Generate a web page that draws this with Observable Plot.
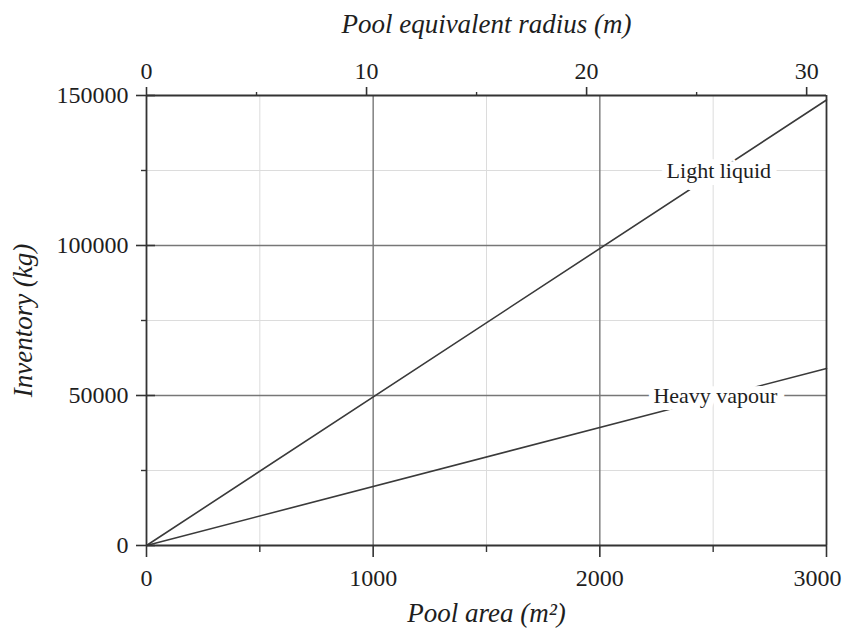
<!DOCTYPE html>
<html>
<head>
<meta charset="utf-8">
<script src="https://cdn.jsdelivr.net/npm/d3@7"></script>
<script src="https://cdn.jsdelivr.net/npm/@observablehq/plot@0.6"></script>
<style>
  html, body { margin: 0; padding: 0; background: #fff; }
</style>
</head>
<body>
<div id="chart"></div>
<script>
// Inventory needed to form a pool of a given area
const poolArea = [0, 3000];
const lightLiquid = [0, 148500];
const heavyVapour = [0, 59000];

// Axis ticks
const areaMajorTicks = [0, 1000, 2000, 3000];
const areaMinorTicks = [500, 1500, 2500];
const inventoryMajorTicks = [0, 50000, 100000, 150000];
const inventoryMinorTicks = [25000, 75000, 125000];
const radiusMajorTicks = [0, 10, 20, 30];
const radiusMinorTicks = [5, 15, 25];

// Series labels, placed on their lines
const labelNames = ["Light liquid", "Heavy vapour"];
const labelArea = [2525, 2510];
const labelInventory = [125000, 50000];

// Top axis: equivalent radius of the largest pool spans the full width
const maxArea = 3000;
const maxRadius = Math.sqrt(maxArea / Math.PI);
const radiusToArea = r => r * maxArea / maxRadius;
const areaToRadius = a => a * maxRadius / maxArea;

const rows = [
  ...poolArea.map((a, i) => ({series: "Light liquid", area: a, inventory: lightLiquid[i]})),
  ...poolArea.map((a, i) => ({series: "Heavy vapour", area: a, inventory: heavyVapour[i]}))
];
const labels = labelNames.map((name, i) => ({name, area: labelArea[i], inventory: labelInventory[i]}));

const axisColor = "#333";
const textColor = "#1e1e1e";
const serif = "'Liberation Serif', 'Times New Roman', serif";
const tickFont = 24;
const titleFont = 27;

const chart = Plot.plot({
  width: 842,
  height: 628,
  marginLeft: 146,
  marginRight: 16,
  marginTop: 95,
  marginBottom: 83,
  style: {fontFamily: serif, fontSize: `${tickFont}px`, color: textColor, background: "#fff"},
  x: {domain: [0, maxArea], label: null},
  y: {domain: [0, 150000], label: null},
  marks: [
    // grid
    Plot.ruleX(areaMinorTicks, {stroke: "#dcdcdc", strokeWidth: 1}),
    Plot.ruleY(inventoryMinorTicks, {stroke: "#dcdcdc", strokeWidth: 1}),
    Plot.ruleX(areaMajorTicks.slice(1, -1), {stroke: "#777", strokeWidth: 1.4}),
    Plot.ruleY(inventoryMajorTicks.slice(1, -1), {stroke: "#777", strokeWidth: 1.4}),

    // series
    Plot.line(rows, {x: "area", y: "inventory", z: "series", stroke: "#3a3a3a", strokeWidth: 1.6}),
    Plot.text(labels, {
      x: "area", y: "inventory", text: "name",
      fontSize: 22, fill: textColor,
      stroke: "#fff", strokeWidth: 14, strokeLinejoin: "round", paintOrder: "stroke"
    }),

    // frame
    Plot.ruleX([0, maxArea], {stroke: axisColor, strokeWidth: 1.8}),
    Plot.ruleY([0, 150000], {stroke: axisColor, strokeWidth: 1.8}),

    // left axis
    Plot.axisY(inventoryMajorTicks, {
      anchor: "left", tickSize: 19, dx: 9, tickPadding: 8,
      tickFormat: d => String(d), stroke: axisColor, strokeWidth: 1.6, fill: textColor
    }),
    Plot.axisY(inventoryMinorTicks, {
      anchor: "left", tickSize: 5, tickFormat: () => "", stroke: axisColor, strokeWidth: 1.4
    }),

    // bottom axis: ticks, then labels (the last one kept inside the page)
    Plot.axisX(areaMajorTicks, {
      anchor: "bottom", tickSize: 12, tickFormat: () => "", stroke: axisColor, strokeWidth: 1.6
    }),
    Plot.axisX(areaMinorTicks, {
      anchor: "bottom", tickSize: 7, tickFormat: () => "", stroke: axisColor, strokeWidth: 1.4
    }),
    Plot.axisX(areaMajorTicks.slice(0, -1), {
      anchor: "bottom", tickSize: 0, tickPadding: 23,
      tickFormat: d => String(d), stroke: "none", fill: textColor
    }),
    Plot.axisX(areaMajorTicks.slice(-1), {
      anchor: "bottom", tickSize: 0, tickPadding: 23, dx: -9,
      tickFormat: d => String(d), stroke: "none", fill: textColor
    }),

    // top axis: pool equivalent radius
    Plot.axisX(radiusMajorTicks.map(radiusToArea), {
      anchor: "top", tickSize: 9, tickPadding: 8,
      tickFormat: d => String(Math.round(areaToRadius(d))), stroke: axisColor, strokeWidth: 1.6, fill: textColor
    }),
    Plot.axisX(radiusMinorTicks.map(radiusToArea), {
      anchor: "top", tickSize: 4, tickFormat: () => "", stroke: axisColor, strokeWidth: 1.4
    }),

    // axis titles
    Plot.text(["Pool area (m²)"], {
      frameAnchor: "bottom", dy: 68, lineAnchor: "middle", textAnchor: "middle",
      fontSize: titleFont, fontStyle: "italic", fill: textColor
    }),
    Plot.text(["Pool equivalent radius (m)"], {
      frameAnchor: "top", dy: -71, lineAnchor: "middle", textAnchor: "middle",
      fontSize: titleFont, fontStyle: "italic", fill: textColor
    }),
    Plot.text(["Inventory (kg)"], {
      frameAnchor: "left", dx: -123, rotate: -90, lineAnchor: "middle", textAnchor: "middle",
      fontSize: titleFont, fontStyle: "italic", fill: textColor
    })
  ]
});

document.getElementById("chart").appendChild(chart);
</script>
</body>
</html>
